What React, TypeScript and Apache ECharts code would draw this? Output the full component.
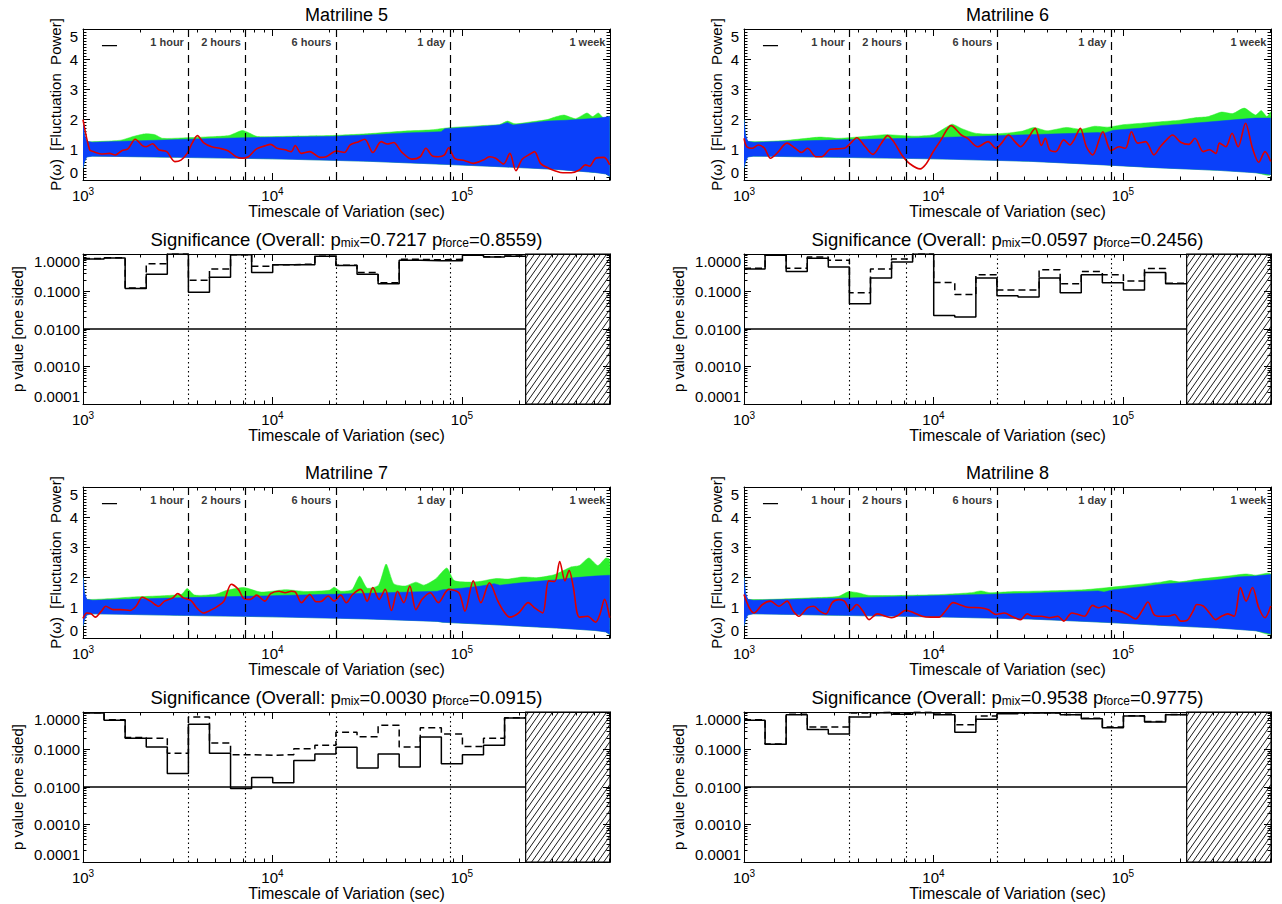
import React, { useEffect, useRef } from 'react';
import * as echarts from 'echarts';

// ---------------- data ----------------
const X_MIN = 1000;
const X_MAX = 604800;
const MARK_T = [3600, 7200, 21600, 86400];
const MARK_LABEL_T = [3600, 7200, 21600, 86400, 604800];
const MARK_LABELS = ['1 hour', '2 hours', '6 hours', '1 day', '1 week'];
const LABEL_P = 4.56;
const LEGEND_T = [1259, 1512];
const LEGEND_P = 4.45;
const BIN_EDGES = [1000, 1292, 1669, 2157, 2786, 3600, 4651, 6009, 7764, 10031, 12960, 16744, 21633, 27950, 36111, 46655, 60278, 77880, 100620, 130000, 167960, 217010];
const HATCH_START = 217010;
const SIG_LEVEL = 0.01;

const PANEL_TITLES = ['Matriline 5', 'Matriline 6', 'Matriline 7', 'Matriline 8'];
const P_MIX = ['0.7217', '0.0597', '0.0030', '0.9538'];
const P_FORCE = ['0.8559', '0.2456', '0.0915', '0.9775'];

// significance histograms (21 bins)
const M5_SOLID = [0.74, 0.78, 0.12, 0.29, 1.0, 0.095, 0.24, 0.96, 0.32, 0.52, 0.52, 0.87, 0.49, 0.29, 0.16, 0.68, 0.66, 0.66, 0.92, 0.83, 0.87];
const M5_DASHED = [0.76, 0.8, 0.124, 0.55, 1.0, 0.2, 0.4, 0.96, 0.47, 0.52, 0.54, 0.87, 0.5, 0.32, 0.17, 0.72, 0.7, 0.72, 0.93, 0.85, 0.89];
const M6_SOLID = [0.4, 0.92, 0.34, 0.77, 0.45, 0.047, 0.23, 0.61, 1.0, 0.023, 0.021, 0.23, 0.077, 0.071, 0.23, 0.093, 0.28, 0.17, 0.11, 0.32, 0.16];
const M6_DASHED = [0.42, 0.95, 0.42, 0.83, 0.68, 0.093, 0.4, 0.74, 1.0, 0.175, 0.083, 0.28, 0.11, 0.11, 0.38, 0.16, 0.34, 0.28, 0.19, 0.41, 0.165];
const M7_SOLID = [0.94, 0.6, 0.2, 0.116, 0.023, 0.47, 0.08, 0.0091, 0.018, 0.013, 0.051, 0.076, 0.114, 0.032, 0.076, 0.034, 0.215, 0.042, 0.073, 0.13, 0.69];
const M7_DASHED = [0.96, 0.62, 0.21, 0.2, 0.08, 0.74, 0.15, 0.073, 0.07, 0.073, 0.105, 0.13, 0.29, 0.22, 0.44, 0.116, 0.38, 0.26, 0.12, 0.2, 0.7];
const M8_SOLID = [0.6, 0.137, 0.85, 0.34, 0.26, 0.74, 0.96, 0.87, 0.96, 0.85, 0.29, 0.64, 0.9, 0.94, 0.94, 0.85, 0.66, 0.38, 0.78, 0.54, 0.85];
const M8_DASHED = [0.62, 0.14, 0.87, 0.4, 0.4, 0.94, 0.98, 0.9, 0.98, 0.88, 0.46, 0.78, 0.93, 0.96, 0.96, 0.86, 0.68, 0.4, 0.8, 0.56, 0.86];

// power spectra: [log10(timescale), P]
const M5_RED = [[3.0, 2.0], [3.035, 1.0], [3.054, 0.94], [3.097, 0.86], [3.14, 0.88], [3.17, 0.83], [3.205, 0.97], [3.237, 1.03], [3.276, 1.35], [3.313, 1.14], [3.334, 1.1], [3.367, 1.2], [3.4, 1.0], [3.442, 0.94], [3.485, 0.61], [3.517, 0.66], [3.55, 0.88], [3.576, 1.22], [3.604, 1.47], [3.636, 1.24], [3.679, 1.1], [3.722, 1.05], [3.765, 0.97], [3.808, 0.77], [3.84, 0.72], [3.873, 0.77], [3.916, 1.03], [3.96, 1.13], [3.99, 1.18], [4.024, 1.05], [4.067, 1.0], [4.1, 0.94], [4.12, 1.14], [4.153, 0.88], [4.197, 0.94], [4.25, 0.75], [4.283, 0.77], [4.337, 0.96], [4.38, 0.91], [4.41, 1.16], [4.455, 1.27], [4.487, 1.35], [4.53, 0.91], [4.574, 1.27], [4.606, 1.19], [4.64, 1.24], [4.68, 0.94], [4.736, 0.69], [4.78, 0.77], [4.81, 1.05], [4.843, 0.8], [4.876, 0.77], [4.908, 0.83], [4.93, 1.07], [4.962, 0.72], [5.016, 0.64], [5.06, 0.55], [5.113, 0.66], [5.145, 0.77], [5.178, 0.72], [5.22, 0.53], [5.253, 0.88], [5.285, 0.31], [5.318, 0.69], [5.36, 0.86], [5.383, 0.94], [5.415, 0.55], [5.458, 0.39], [5.49, 0.31], [5.533, 0.24], [5.577, 0.24], [5.62, 0.33], [5.652, 0.5], [5.674, 0.46], [5.706, 0.72], [5.75, 0.75], [5.78, 0.5]];
const M6_RED = [[3.0, 1.38], [3.015, 1.1], [3.043, 1.05], [3.076, 1.16], [3.108, 1.05], [3.14, 0.72], [3.173, 0.88], [3.227, 1.22], [3.27, 1.05], [3.303, 0.91], [3.335, 1.05], [3.38, 0.77], [3.41, 0.77], [3.455, 1.02], [3.487, 1.03], [3.53, 1.05], [3.563, 1.22], [3.595, 1.4], [3.64, 1.1], [3.68, 0.85], [3.725, 1.22], [3.758, 1.47], [3.79, 1.27], [3.833, 0.83], [3.877, 0.53], [3.93, 0.37], [3.963, 0.55], [3.996, 0.91], [4.04, 1.33], [4.093, 1.8], [4.147, 1.49], [4.18, 1.38], [4.234, 1.1], [4.288, 1.27], [4.33, 1.05], [4.36, 1.22], [4.396, 1.49], [4.43, 1.27], [4.46, 1.1], [4.494, 1.33], [4.537, 1.71], [4.57, 1.14], [4.59, 1.38], [4.613, 1.0], [4.645, 0.94], [4.688, 1.33], [4.72, 1.16], [4.742, 1.33], [4.775, 1.71], [4.807, 1.1], [4.84, 0.83], [4.894, 1.6], [4.937, 0.97], [4.98, 1.1], [5.013, 1.05], [5.045, 1.6], [5.078, 1.22], [5.12, 1.27], [5.164, 0.83], [5.197, 1.1], [5.23, 1.33], [5.262, 1.49], [5.305, 1.25], [5.348, 1.18], [5.38, 1.38], [5.424, 0.94], [5.457, 1.0], [5.49, 0.88], [5.51, 1.22], [5.543, 1.1], [5.576, 1.55], [5.608, 1.1], [5.647, 1.88], [5.684, 1.05], [5.717, 0.59], [5.75, 0.94], [5.78, 0.61]];
const M7_RED = [[3.0, 0.65], [3.02, 0.83], [3.043, 0.8], [3.065, 0.69], [3.097, 0.89], [3.12, 1.05], [3.16, 0.94], [3.2, 0.94], [3.248, 0.91], [3.28, 1.05], [3.313, 1.35], [3.356, 1.22], [3.4, 1.05], [3.43, 1.22], [3.474, 1.33], [3.5, 1.47], [3.53, 1.33], [3.57, 1.24], [3.6, 1.0], [3.636, 0.83], [3.68, 0.94], [3.71, 1.05], [3.744, 1.22], [3.783, 1.78], [3.82, 1.61], [3.85, 1.3], [3.884, 1.28], [3.916, 1.42], [3.96, 1.22], [3.99, 1.47], [4.035, 1.55], [4.067, 1.5], [4.1, 1.55], [4.12, 1.53], [4.153, 1.17], [4.197, 1.44], [4.23, 1.2], [4.26, 1.22], [4.294, 1.39], [4.326, 1.22], [4.36, 1.42], [4.39, 1.17], [4.423, 1.44], [4.466, 1.61], [4.5, 1.22], [4.53, 1.67], [4.563, 1.28], [4.595, 1.61], [4.628, 0.91], [4.66, 1.55], [4.693, 1.17], [4.725, 1.72], [4.757, 0.94], [4.79, 1.28], [4.833, 1.5], [4.876, 1.17], [4.93, 1.61], [4.984, 1.5], [5.016, 0.89], [5.06, 1.89], [5.1, 1.17], [5.145, 1.83], [5.19, 1.22], [5.22, 0.89], [5.253, 0.69], [5.3, 0.83], [5.35, 1.17], [5.383, 1.0], [5.426, 0.83], [5.458, 1.89], [5.49, 1.87], [5.516, 2.53], [5.544, 1.89], [5.566, 2.24], [5.587, 1.72], [5.62, 0.69], [5.663, 0.72], [5.706, 0.52], [5.728, 0.78], [5.753, 1.28], [5.78, 0.67]];
const M8_RED = [[3.0, 1.44], [3.028, 1.0], [3.054, 0.83], [3.097, 1.11], [3.14, 1.22], [3.184, 1.05], [3.227, 1.22], [3.26, 0.89], [3.29, 0.72], [3.335, 1.0], [3.368, 1.05], [3.4, 0.89], [3.433, 0.8], [3.465, 1.17], [3.5, 1.27], [3.53, 1.22], [3.563, 0.92], [3.595, 1.11], [3.628, 0.89], [3.66, 0.61], [3.703, 0.8], [3.747, 0.72], [3.78, 0.67], [3.81, 0.74], [3.855, 0.92], [3.898, 0.83], [3.94, 0.72], [3.985, 0.69], [4.03, 0.69], [4.06, 0.87], [4.104, 1.17], [4.136, 1.11], [4.18, 1.02], [4.245, 1.0], [4.288, 0.94], [4.33, 0.78], [4.374, 0.83], [4.418, 0.7], [4.46, 0.61], [4.494, 0.8], [4.526, 0.72], [4.57, 0.72], [4.613, 0.67], [4.656, 0.72], [4.688, 0.56], [4.73, 0.83], [4.764, 0.78], [4.797, 0.72], [4.84, 1.08], [4.872, 1.0], [4.905, 1.06], [4.937, 0.94], [4.98, 0.89], [5.024, 0.78], [5.067, 0.63], [5.1, 0.89], [5.132, 1.19], [5.164, 0.78], [5.197, 0.72], [5.24, 0.72], [5.273, 0.78], [5.305, 0.56], [5.337, 0.58], [5.37, 0.89], [5.39, 1.11], [5.424, 1.06], [5.457, 0.83], [5.49, 0.61], [5.52, 0.72], [5.554, 0.8], [5.587, 0.72], [5.62, 1.67], [5.65, 1.22], [5.684, 1.67], [5.717, 1.0], [5.75, 0.67], [5.78, 1.06]];

// simulated bands: blue (mixing), green (forcing) upper envelopes, common lower envelope
const M5_BLUE_HI = [[3.0, 2.0], [3.008, 1.5], [3.02, 1.28], [3.05, 1.25], [3.3, 1.3], [3.6, 1.36], [3.85, 1.4], [4.1, 1.42], [4.3, 1.44], [4.5, 1.49], [4.7, 1.56], [4.89, 1.6], [4.91, 1.7], [5.05, 1.75], [5.2, 1.82], [5.24, 1.9], [5.27, 1.82], [5.35, 1.88], [5.45, 1.95], [5.55, 1.98], [5.65, 2.02], [5.72, 2.05], [5.78, 2.1]];
const M5_BLUE_LO = [[3.0, 0.4], [3.008, 0.6], [3.02, 0.76], [3.05, 0.79], [3.5, 0.75], [4.0, 0.7], [4.5, 0.62], [4.9, 0.52], [5.2, 0.44], [5.5, 0.35], [5.7, 0.25], [5.76, 0.2], [5.78, 0.12]];
const M5_GREEN_HI = [[3.0, 2.0], [3.008, 1.5], [3.02, 1.28], [3.1, 1.28], [3.2, 1.32], [3.27, 1.45], [3.33, 1.53], [3.38, 1.5], [3.42, 1.38], [3.55, 1.4], [3.7, 1.44], [3.77, 1.47], [3.84, 1.64], [3.88, 1.55], [3.92, 1.44], [4.1, 1.45], [4.3, 1.47], [4.5, 1.53], [4.7, 1.62], [4.84, 1.66], [4.93, 1.73], [5.1, 1.8], [5.2, 1.84], [5.24, 1.95], [5.28, 1.86], [5.36, 1.92], [5.45, 2.0], [5.5, 2.1], [5.54, 2.15], [5.6, 2.03], [5.66, 2.22], [5.69, 2.1], [5.72, 2.22], [5.75, 2.04], [5.78, 2.1]];

const M6_BLUE_HI = [[3.0, 2.0], [3.008, 1.5], [3.02, 1.28], [3.05, 1.25], [3.5, 1.33], [4.0, 1.4], [4.5, 1.5], [4.87, 1.57], [4.9, 1.55], [4.95, 1.65], [5.1, 1.72], [5.2, 1.8], [5.3, 1.85], [5.45, 1.92], [5.6, 2.0], [5.7, 2.05], [5.78, 2.05]];
const M6_BLUE_LO = [[3.0, 0.4], [3.008, 0.6], [3.02, 0.76], [3.05, 0.79], [3.5, 0.75], [4.0, 0.7], [4.5, 0.62], [4.9, 0.5], [5.2, 0.4], [5.5, 0.32], [5.7, 0.24], [5.78, 0.18]];
const M6_GREEN_HI = [[3.0, 2.0], [3.008, 1.5], [3.02, 1.28], [3.2, 1.3], [3.33, 1.38], [3.4, 1.42], [3.5, 1.38], [3.65, 1.45], [3.75, 1.5], [3.9, 1.45], [4.0, 1.5], [4.06, 1.72], [4.1, 1.85], [4.15, 1.7], [4.22, 1.55], [4.3, 1.52], [4.4, 1.56], [4.47, 1.62], [4.53, 1.74], [4.6, 1.63], [4.7, 1.74], [4.78, 1.68], [4.85, 1.78], [4.92, 1.75], [5.0, 1.83], [5.1, 1.88], [5.2, 1.93], [5.3, 1.98], [5.38, 2.06], [5.45, 2.1], [5.52, 2.25], [5.58, 2.2], [5.64, 2.38], [5.7, 2.15], [5.73, 2.3], [5.76, 2.1], [5.78, 2.25]];

const M7_BLUE_HI = [[3.0, 2.0], [3.008, 1.5], [3.02, 1.28], [3.05, 1.25], [3.5, 1.33], [4.0, 1.4], [4.5, 1.48], [4.87, 1.55], [4.9, 1.6], [5.0, 1.65], [5.1, 1.72], [5.17, 1.8], [5.2, 1.75], [5.3, 1.82], [5.4, 1.88], [5.5, 1.93], [5.6, 2.0], [5.7, 2.05], [5.78, 2.08]];
const M7_BLUE_LO = [[3.0, 0.4], [3.008, 0.6], [3.02, 0.76], [3.05, 0.8], [3.5, 0.75], [4.0, 0.7], [4.5, 0.63], [4.87, 0.55], [4.9, 0.52], [5.2, 0.43], [5.5, 0.33], [5.7, 0.25], [5.76, 0.2], [5.78, 0.12]];
const M7_GREEN_HI = [[3.0, 2.0], [3.008, 1.5], [3.02, 1.28], [3.27, 1.36], [3.42, 1.4], [3.52, 1.45], [3.55, 1.64], [3.59, 1.42], [3.7, 1.45], [3.76, 1.58], [3.85, 1.67], [3.94, 1.52], [4.07, 1.6], [4.175, 1.54], [4.3, 1.58], [4.326, 1.68], [4.36, 1.55], [4.42, 1.6], [4.46, 2.05], [4.5, 1.65], [4.56, 1.75], [4.6, 2.45], [4.64, 1.8], [4.7, 1.72], [4.757, 1.85], [4.8, 1.75], [4.86, 1.95], [4.92, 2.32], [4.96, 1.9], [5.05, 1.85], [5.1, 1.88], [5.18, 1.97], [5.24, 1.95], [5.32, 2.02], [5.4, 2.0], [5.49, 2.1], [5.575, 2.35], [5.62, 2.4], [5.67, 2.65], [5.717, 2.4], [5.76, 2.65], [5.78, 2.6]];

const M8_BLUE_HI = [[3.0, 2.0], [3.008, 1.5], [3.02, 1.28], [3.05, 1.25], [3.5, 1.32], [4.0, 1.4], [4.5, 1.48], [4.87, 1.56], [4.9, 1.52], [4.95, 1.6], [5.1, 1.7], [5.2, 1.78], [5.35, 1.85], [5.5, 1.93], [5.6, 2.02], [5.7, 2.05], [5.78, 2.1]];
const M8_BLUE_LO = [[3.0, 0.4], [3.008, 0.6], [3.02, 0.76], [3.05, 0.8], [3.5, 0.75], [4.0, 0.7], [4.5, 0.63], [4.9, 0.52], [5.2, 0.42], [5.5, 0.33], [5.7, 0.24], [5.78, 0.14]];
const M8_GREEN_HI = [[3.0, 2.0], [3.008, 1.5], [3.02, 1.28], [3.4, 1.34], [3.5, 1.38], [3.55, 1.53], [3.6, 1.5], [3.66, 1.41], [4.0, 1.43], [4.2, 1.5], [4.25, 1.56], [4.3, 1.5], [4.4, 1.53], [4.6, 1.56], [4.8, 1.6], [5.0, 1.72], [5.2, 1.85], [5.25, 1.9], [5.3, 1.86], [5.4, 1.95], [5.55, 2.05], [5.65, 2.12], [5.7, 2.08], [5.78, 2.12]];

const PANELS = [
  { red: M5_RED, blueHi: M5_BLUE_HI, blueLo: M5_BLUE_LO, greenHi: M5_GREEN_HI, solid: M5_SOLID, dashed: M5_DASHED },
  { red: M6_RED, blueHi: M6_BLUE_HI, blueLo: M6_BLUE_LO, greenHi: M6_GREEN_HI, solid: M6_SOLID, dashed: M6_DASHED },
  { red: M7_RED, blueHi: M7_BLUE_HI, blueLo: M7_BLUE_LO, greenHi: M7_GREEN_HI, solid: M7_SOLID, dashed: M7_DASHED },
  { red: M8_RED, blueHi: M8_BLUE_HI, blueLo: M8_BLUE_LO, greenHi: M8_GREEN_HI, solid: M8_SOLID, dashed: M8_DASHED },
];

// ---------------- styling / layout ----------------
const FONT = '"Liberation Sans", Arial, Helvetica, sans-serif';
const COL_LEFT = [83, 744];
const ROW_TOP = [29, 487];
const PLOT_W = 527;
const POWER_H = 151;
const SIG_OFFSET = 225;
const SIG_H = 150;
const BLUE = '#0a40fa';
const GREEN = '#2cf02c';
const RED = '#dd0000';

const toT = (lt: number) => Math.pow(10, lt);

const powLabel = (v: number) => {
  const e = Math.log10(v);
  const r = Math.round(e);
  if (Math.abs(e - r) > 1e-6) return '';
  return `{b|10}{s|${r}}`;
};

const axisLineStyle = { show: true, onZero: false, lineStyle: { color: '#000', width: 1 } };
const tickStyle = { show: true, inside: true, length: 7, lineStyle: { color: '#000', width: 1 } };

function makeXAxes(g: number) {
  const common: any = {
    type: 'log', logBase: 10, min: X_MIN, max: X_MAX, gridIndex: g, splitNumber: 3,
    axisLine: axisLineStyle, axisTick: tickStyle,
    minorTick: { show: true, splitNumber: 9, length: 3.5, lineStyle: { color: '#000', width: 1 } },
    splitLine: { show: false }, minorSplitLine: { show: false },
  };
  return [
    {
      ...common, position: 'bottom',
      name: 'Timescale of Variation (sec)', nameLocation: 'middle', nameGap: 23,
      nameTextStyle: { fontSize: 16, fontFamily: FONT, color: '#000' },
      axisLabel: {
        show: true, margin: 6, formatter: powLabel, color: '#000',
        rich: {
          b: { fontSize: 15, fontFamily: FONT, color: '#000', lineHeight: 18 },
          s: { fontSize: 10, fontFamily: FONT, color: '#000', lineHeight: 10, verticalAlign: 'top' },
        },
      },
    },
    { ...common, position: 'top', axisLabel: { show: false } },
  ];
}

function makeYAxes(g: number, kind: 'power' | 'sig') {
  const common: any = kind === 'power'
    ? { type: 'value', min: 0, max: 5, interval: 1, minorTick: { show: true, splitNumber: 10, length: 3.5, lineStyle: { color: '#000', width: 1 } } }
    : { type: 'log', logBase: 10, min: 0.0001, max: 1, splitNumber: 4, minorTick: { show: true, splitNumber: 9, length: 3.5, lineStyle: { color: '#000', width: 1 } } };
  Object.assign(common, {
    gridIndex: g, axisLine: axisLineStyle, axisTick: tickStyle,
    splitLine: { show: false }, minorSplitLine: { show: false },
  });
  return [
    {
      ...common, position: 'left',
      name: kind === 'power' ? 'P(ω)  [Fluctuation  Power]' : 'p value [one sided]',
      nameLocation: 'middle', nameRotate: 90, nameGap: kind === 'power' ? 20 : 58,
      nameTextStyle: { fontSize: 15, fontFamily: FONT, color: '#000' },
      axisLabel: {
        show: true, fontSize: 15, fontFamily: FONT, color: '#000', margin: kind === 'power' ? 5 : 3,
        formatter: kind === 'power' ? (v: number) => String(v) : (v: number) => v.toFixed(4),
        verticalAlignMinLabel: 'bottom', verticalAlignMaxLabel: 'top',
      },
    },
    { ...common, position: 'right', axisLabel: { show: false } },
  ];
}

function bandSeries(g: number, upper: number[][], lower: number[][], color: string, z: number, smooth: number) {
  return {
    type: 'custom', coordinateSystem: 'cartesian2d', xAxisIndex: 2 * g, yAxisIndex: 2 * g,
    data: [[X_MIN, 1]], silent: true, z, clip: true,
    renderItem: (_params: any, api: any) => {
      const up = upper.map(([lt, v]) => api.coord([toT(lt), v]));
      const lo = lower.map(([lt, v]) => api.coord([toT(lt), v])).reverse();
      return {
        type: 'group',
        children: [
          { type: 'polygon', shape: { points: [...up, ...lo], smooth }, style: { fill: color, stroke: color, lineWidth: 0.5 } },
        ],
      };
    },
  };
}

function hatchSeries(g: number) {
  const run = 0.7; // horizontal px per vertical px
  const step = 6;
  return {
    type: 'custom', coordinateSystem: 'cartesian2d', xAxisIndex: 2 * g, yAxisIndex: 2 * g,
    data: [[HATCH_START, 0.5]], silent: true, z: 6,
    renderItem: (_params: any, api: any) => {
      const tl = api.coord([HATCH_START, 1]);
      const br = api.coord([X_MAX, 0.0001]);
      const x0 = tl[0], y0 = tl[1], x1 = br[0], y1 = br[1];
      const w = x1 - x0, h = y1 - y0;
      const children: any[] = [];
      for (let t = -h * run + step / 2; t < w; t += step) {
        let xa = x0 + t, ya = y1;
        let xb = xa + h * run, yb = y0;
        if (xa < x0) { ya = y1 + t / run; xa = x0; }
        if (xb > x1) { yb = y1 - (x1 - (x0 + t)) / run; xb = x1; }
        if (ya > yb) children.push({ type: 'line', shape: { x1: xa, y1: ya, x2: xb, y2: yb }, style: { stroke: '#000', lineWidth: 0.9 } });
      }
      children.push({ type: 'rect', shape: { x: x0, y: y0, width: w, height: h }, style: { fill: 'none', stroke: '#000', lineWidth: 1.2 } });
      return { type: 'group', children };
    },
  };
}

function buildOption() {
  const grid: any[] = [], xAxis: any[] = [], yAxis: any[] = [], series: any[] = [], title: any[] = [];
  PANELS.forEach((pn, p) => {
    const c = p % 2, r = Math.floor(p / 2);
    const left = COL_LEFT[c];
    const topP = ROW_TOP[r];
    const topS = ROW_TOP[r] + SIG_OFFSET;
    const gP = 2 * p, gS = 2 * p + 1;
    const cx = left + PLOT_W / 2;

    grid.push({ left, top: topP, width: PLOT_W, height: POWER_H });
    grid.push({ left, top: topS, width: PLOT_W, height: SIG_H });
    xAxis.push(...makeXAxes(gP), ...makeXAxes(gS));
    yAxis.push(...makeYAxes(gP, 'power'), ...makeYAxes(gS, 'sig'));

    title.push({
      text: PANEL_TITLES[p], left: cx, top: topP - 24, textAlign: 'center', padding: 0,
      textStyle: { fontSize: 18, fontWeight: 'normal', fontFamily: FONT, color: '#000', lineHeight: 20 },
    });
    title.push({
      text: `{n|Significance (Overall: p}{s|mix}{n|=${P_MIX[p]} p}{s|force}{n|=${P_FORCE[p]})}`,
      left: cx, top: topS - 25, textAlign: 'center', padding: 0,
      textStyle: {
        fontSize: 18.5, fontWeight: 'normal', fontFamily: FONT, color: '#000',
        rich: {
          n: { fontSize: 18.5, fontFamily: FONT, color: '#000', lineHeight: 20 },
          s: { fontSize: 12, fontFamily: FONT, color: '#000', lineHeight: 1, verticalAlign: 'bottom' },
        },
      },
    });

    // ---- power panel ----
    series.push(bandSeries(gP, pn.greenHi, pn.blueLo, GREEN, 1, 0.2));
    series.push(bandSeries(gP, pn.blueHi, pn.blueLo, BLUE, 2, 0));
    series.push({
      type: 'line', xAxisIndex: 2 * gP, yAxisIndex: 2 * gP, z: 4,
      data: pn.red.map(([lt, v]) => [toT(lt), v]),
      smooth: 0.3, symbol: 'none', lineStyle: { color: RED, width: 1.6 }, silent: true,
      markLine: {
        silent: true, symbol: ['none', 'none'], label: { show: false },
        lineStyle: { color: '#000', type: [8, 5], width: 1.2 },
        data: MARK_T.map((t) => ({ xAxis: t })),
      },
    });
    series.push({
      type: 'scatter', xAxisIndex: 2 * gP, yAxisIndex: 2 * gP, z: 5, silent: true,
      symbolSize: 1, itemStyle: { color: 'rgba(0,0,0,0)' },
      data: MARK_LABEL_T.map((t, i) => [t, LABEL_P, MARK_LABELS[i]]),
      label: {
        show: true, position: 'left', distance: 4, formatter: (q: any) => q.value[2],
        fontSize: 11, fontWeight: 'bold', fontFamily: FONT, color: '#000',
        textBorderWidth: 0,
      },
    });
    series.push({
      type: 'line', xAxisIndex: 2 * gP, yAxisIndex: 2 * gP, z: 5, silent: true,
      data: LEGEND_T.map((t) => [t, LEGEND_P]), symbol: 'none',
      lineStyle: { color: '#000', width: 1.3 },
    });

    // ---- significance panel ----
    const stepData = (vals: number[]) => [...vals.map((v, i) => [BIN_EDGES[i], v]), [BIN_EDGES[vals.length], vals[vals.length - 1]]];
    series.push({
      type: 'line', xAxisIndex: 2 * gS, yAxisIndex: 2 * gS, z: 4, silent: true,
      data: stepData(pn.dashed), step: 'end', symbol: 'none',
      lineStyle: { color: '#000', width: 1.5, type: [7, 4] },
    });
    series.push({
      type: 'line', xAxisIndex: 2 * gS, yAxisIndex: 2 * gS, z: 5, silent: true,
      data: stepData(pn.solid), step: 'end', symbol: 'none',
      lineStyle: { color: '#000', width: 1.5 },
      markLine: {
        silent: true, symbol: ['none', 'none'], label: { show: false },
        lineStyle: { color: '#000', type: [1.5, 3], width: 1.1 },
        data: MARK_T.map((t) => ({ xAxis: t })),
      },
    });
    series.push({
      type: 'line', xAxisIndex: 2 * gS, yAxisIndex: 2 * gS, z: 5, silent: true,
      data: [[X_MIN, SIG_LEVEL], [HATCH_START, SIG_LEVEL]], symbol: 'none',
      lineStyle: { color: '#000', width: 1.5 },
    });
    series.push(hatchSeries(gS));
  });

  return { animation: false, backgroundColor: '#fff', title, grid, xAxis, yAxis, series };
}

export default function App() {
  const ref = useRef<HTMLDivElement>(null);
  useEffect(() => {
    if (!ref.current) return;
    const chart = echarts.init(ref.current, null, { renderer: 'svg' });
    chart.setOption(buildOption() as any);
    return () => chart.dispose();
  }, []);
  return <div ref={ref} style={{ position: 'absolute', left: 0, top: 0, width: 1282, height: 904 }} />;
}
